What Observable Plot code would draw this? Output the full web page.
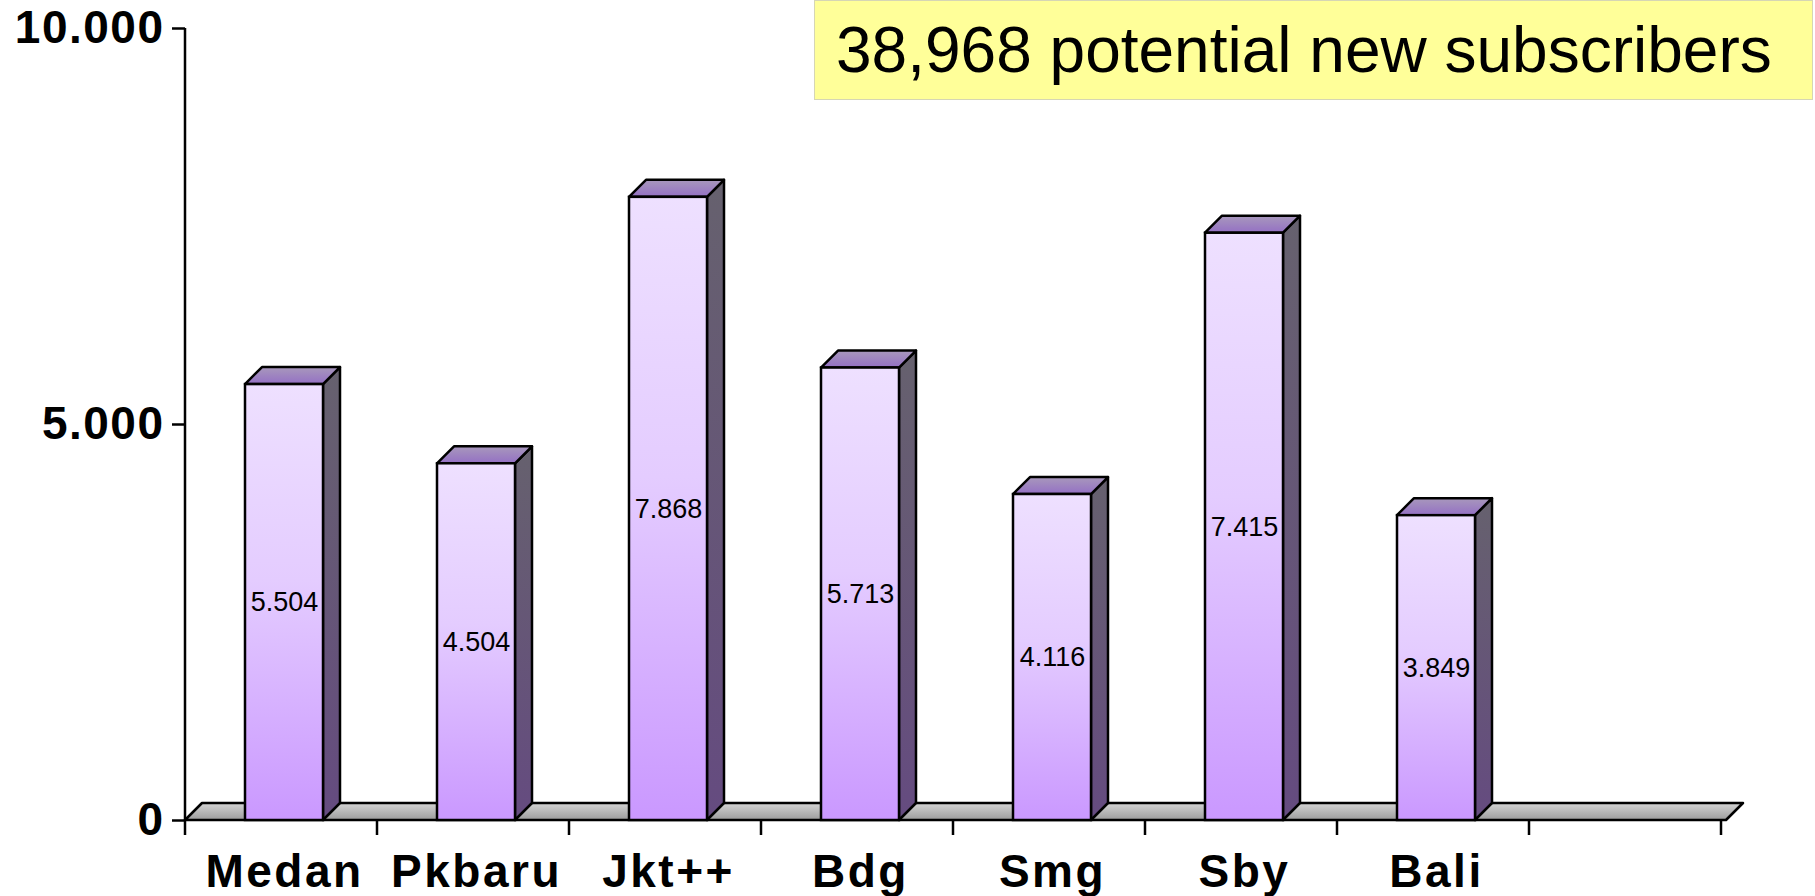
<!DOCTYPE html>
<html><head><meta charset="utf-8">
<script src="https://cdn.jsdelivr.net/npm/d3@7"></script>
<script src="https://cdn.jsdelivr.net/npm/@observablehq/plot@0.6"></script>
<style>
html,body{margin:0;padding:0;background:#fff;}
#wrap{position:relative;width:1815px;height:896px;overflow:hidden;background:#fff;}
#title{position:absolute;left:814px;top:0;width:997px;height:98px;background:#FFFF99;border:1px solid #D6D6B4;
  font-family:"Liberation Sans",Arial,sans-serif;font-size:64px;line-height:98px;color:#000;white-space:nowrap;}
#title span{margin-left:21px;}
#chart g[aria-label="y-axis tick"] *{stroke-width:2.5px;}
</style></head><body>
<div id="wrap"><div id="chart"></div><div id="title"><span id="titleText"></span></div></div>
<script>
// ---- data ----
const categories = ["Medan","Pkbaru","Jkt++","Bdg","Smg","Sby","Bali"];
const subscribers = [5504,4504,7868,5713,4116,7415,3849];
const emptySlot = [" "];                // empty 8th category on the axis
const yTicks = [0,5000,10000];
const yDomain = [0,10000];
const titleText = "38,968 potential new subscribers";

document.getElementById("titleText").textContent = titleText;

const table = categories.map((c,i)=>({cat:c, value:subscribers[i]}));
const domainX = categories.concat(emptySlot);
const fmt = d3.formatLocale({decimal:",", thousands:".", grouping:[3], currency:["",""]}).format(",");

const DEPTH = 17;
const SW = 2.5;
const FONT = "Liberation Sans, Arial, sans-serif";

function floorMark(index, scales, values, dims){
  const y = scales.y;
  const L = dims.marginLeft, R = dims.width - dims.marginRight;
  const y0 = y(0);
  const g = d3.create("svg:g");
  g.append("polygon")
    .attr("points",[[L,y0],[L+DEPTH,y0-DEPTH],[R+DEPTH,y0-DEPTH],[R,y0]].join(" "))
    .attr("fill","url(#floorGrad)").attr("stroke","#000").attr("stroke-width",SW).attr("stroke-linejoin","round");
  return g.node();
}

function bar3dMark(index, scales, values, dims){
  const {x,y} = scales;
  const bw = x.bandwidth();
  const y0 = y(0);
  const g = d3.create("svg:g");
  table.forEach(d=>{
    const x0 = x(d.cat), x1 = x0+bw, y1 = y(d.value);
    g.append("polygon")
      .attr("points",[[x1,y1],[x1+DEPTH,y1-DEPTH],[x1+DEPTH,y0-DEPTH],[x1,y0]].join(" "))
      .attr("fill","url(#sideGrad)").attr("stroke","#000").attr("stroke-width",SW).attr("stroke-linejoin","round");
    g.append("polygon")
      .attr("points",[[x0,y1],[x0+DEPTH,y1-DEPTH],[x1+DEPTH,y1-DEPTH],[x1,y1]].join(" "))
      .attr("fill","url(#topGrad)").attr("stroke","#000").attr("stroke-width",SW).attr("stroke-linejoin","round");
  });
  return g.node();
}

function axesMark(index, scales, values, dims){
  const {x,y} = scales;
  const L = dims.marginLeft;
  const step = x.step();
  const y0 = y(0);
  const g = d3.create("svg:g").attr("stroke","#000").attr("stroke-width",SW);
  g.append("line").attr("x1",L).attr("x2",L).attr("y1",y(yDomain[1])).attr("y2",y0);
  domainX.concat([null]).forEach((c,k)=>{
    const xx = L + k*step;
    g.append("line").attr("x1",xx).attr("x2",xx).attr("y1",y0).attr("y2",y0+15);
  });
  return g.node();
}

const svg = Plot.plot({
  width:1815, height:896,
  marginLeft:185, marginRight:89, marginTop:28, marginBottom:76,
  style:{fontFamily:FONT, background:"transparent", overflow:"visible"},
  x:{type:"band", domain:domainX, paddingInner:0.595, paddingOuter:0.2975, label:null},
  y:{domain:yDomain, label:null},
  marks:[
    floorMark,
    bar3dMark,
    Plot.barY(table,{x:"cat", y:"value", fill:"url(#frontGrad)", stroke:"#000", strokeWidth:SW}),
    Plot.text(table,{x:"cat", y:d=>d.value/2, text:d=>fmt(d.value), fontSize:27, fill:"#000"}),
    axesMark,
    Plot.axisY({ticks:yTicks, tickFormat:fmt, tickSize:13, tickPadding:8, fontSize:46, fontWeight:"bold"}),
    Plot.axisX({tickSize:0, tickPadding:34, fontSize:46, fontWeight:"bold"})
  ]
});

d3.select(svg).insert("defs",":first-child").html(`
  <linearGradient id="frontGrad" x1="0" y1="0" x2="0" y2="1">
    <stop offset="0" stop-color="#EEE0FF"/><stop offset="0.45" stop-color="#E4CCFF"/><stop offset="1" stop-color="#CA98FF"/>
  </linearGradient>
  <linearGradient id="sideGrad" x1="0" y1="0" x2="0" y2="1">
    <stop offset="0" stop-color="#66616E"/><stop offset="1" stop-color="#654B80"/>
  </linearGradient>
  <linearGradient id="topGrad" x1="0" y1="0" x2="0" y2="1">
    <stop offset="0" stop-color="#A898BC"/><stop offset="1" stop-color="#9470C4"/>
  </linearGradient>
  <linearGradient id="floorGrad" x1="0" y1="0" x2="0" y2="1">
    <stop offset="0" stop-color="#D4D4D4"/><stop offset="1" stop-color="#9C9C9C"/>
  </linearGradient>`);

d3.select(svg).selectAll('g[aria-label="y-axis tick label"]')
  .attr("font-weight","bold").attr("letter-spacing","1.5px").attr("fill","#000");
d3.select(svg).selectAll('g[aria-label="x-axis tick label"]')
  .attr("font-weight","bold").attr("letter-spacing","2.5px").attr("fill","#000");

document.getElementById("chart").appendChild(svg);
</script>
</body></html>
